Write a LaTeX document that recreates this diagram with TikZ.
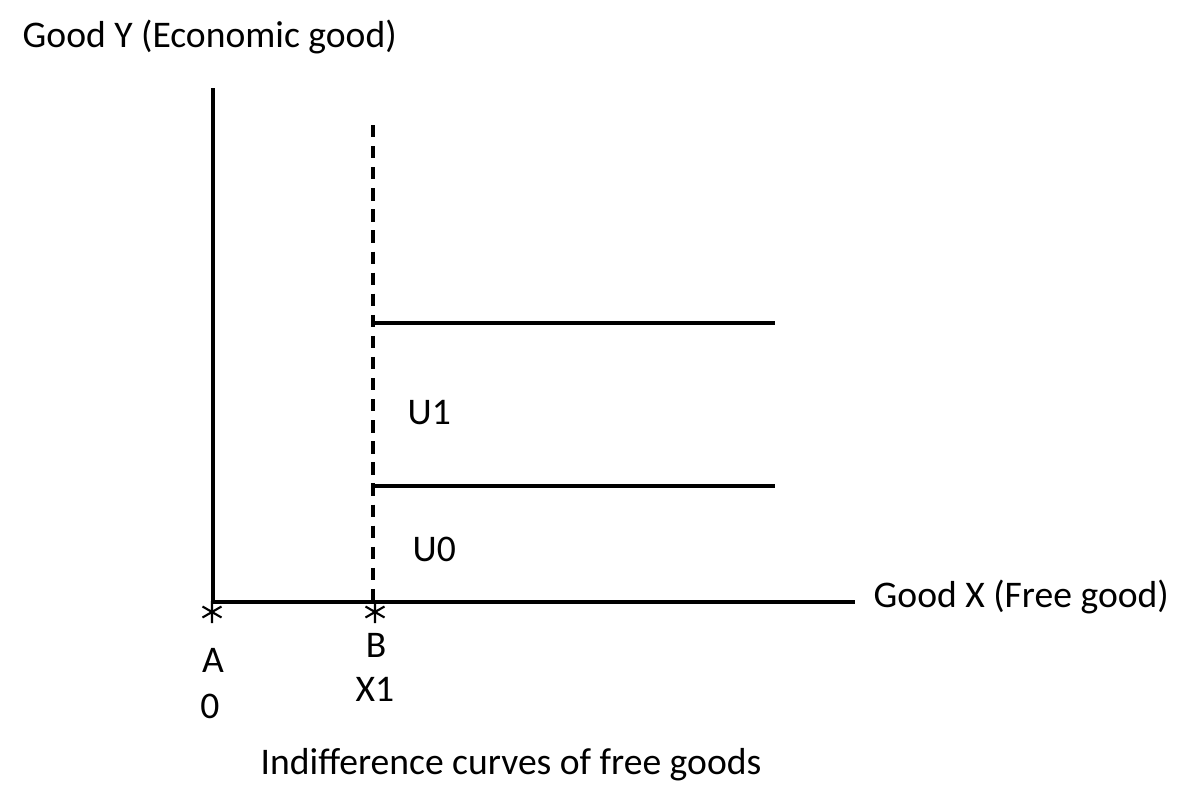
\documentclass[tikz,border=0pt]{standalone}
\usepackage{fontspec}
\setmainfont{Carlito}
\usetikzlibrary{positioning}

\tikzset{
  axisline/.style={line width=0.9pt},
  guideline/.style={line width=0.9pt, dash pattern=on 3.5pt off 2.5pt},
  lbl/.style={inner sep=0pt, font=\fontsize{10.7}{12.5}\selectfont},
  starmark/.pic={\draw[line width=0.6pt] (0,0.11) -- (0,-0.11)
                   (-0.095,0.055) -- (0.095,-0.055)
                   (-0.095,-0.055) -- (0.095,0.055);}
}

\begin{document}
\begin{tikzpicture}
\useasboundingbox (0,0) rectangle (11.91,8.10);

\coordinate (O) at (2.13, 2.08);
\coordinate (Ytop) at (2.13, 7.22);
\coordinate (Xend) at (8.55, 2.08);
\coordinate (B) at (3.73, 2.08);
\coordinate (Btop) at (3.73, 6.85);
\coordinate (U1a) at (3.73, 4.87);
\coordinate (U1b) at (7.75, 4.87);
\coordinate (U0a) at (3.73, 3.24);
\coordinate (U0b) at (7.75, 3.24);

\draw[axisline] (Ytop) -- (O) -- (Xend);
\draw[guideline] (Btop) -- (B);
\draw[axisline] (U1a) -- (U1b);
\draw[axisline] (U0a) -- (U0b);

\pic at (2.12, 1.98) {starmark};
\pic at (3.75, 1.98) {starmark};

\node[lbl, anchor=west] (ylabel) at (0.22, 7.73) {Good Y (Economic good)};
\node[lbl, anchor=west] (xlabel) at (8.73, 2.13) {Good X (Free good)};
\node[lbl, anchor=west] (u1) at (4.07, 3.97) {U1};
\node[lbl, anchor=west] (u0) at (4.12, 2.61) {U0};
\node[lbl] (a) at (2.13, 1.50) {A};
\node[lbl] (zero) at (2.10, 1.04) {0};
\node[lbl] (b) at (3.76, 1.65) {B};
\node[lbl] (x1) at (3.75, 1.21) {X1};
\node[lbl] (title) at (5.11, 0.45) {Indifference curves of free goods};
\end{tikzpicture}
\end{document}
